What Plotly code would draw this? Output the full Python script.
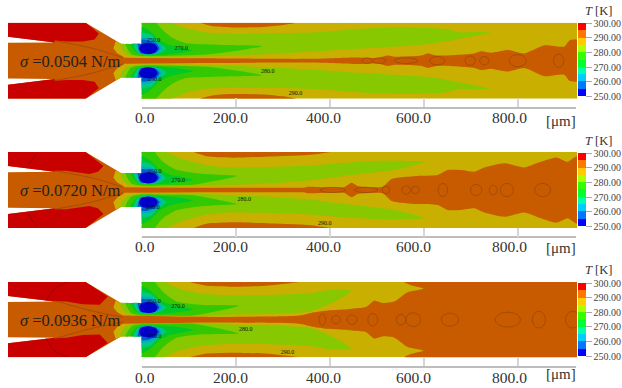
import plotly.graph_objects as go

# ---- shared text and scale data (x, y in micrometres, T in K) ----
TICKS = [0, 200, 400, 600, 800]
TICK_TEXT = ["0.0", "200.0", "400.0", "600.0", "800.0"]
TICK_TEXT_X = [6, 189, 387, 578, 782]
CBAR_TICKS = [250, 260, 270, 280, 290, 300]
SIGMA = ["0.0504", "0.0720", "0.0936"]
CONTOUR_LABEL_TEXT = ["250.0", "270.0", "280.0", "290.0", "250.0"]

BAR_COLORS = ["#0000ff", "#0077ff", "#00ccff", "#00ffaa", "#00ff33",
              "#33ff00", "#aaff00", "#ffcc00", "#ff7700", "#ff0000"]
C_RED = "#c80000"; C_ORANGE = "#c85a00"; C_OLIVE = "#c8af00"; C_LIME = "#87c800"
C_GREEN = "#33c800"; C_GREEN2 = "#00c828"; C_TEAL = "#00c885"; C_CYAN = "#00adc8"
C_BLUE = "#005dc8"; C_DBLUE = "#0000c8"

# ---- geometry shared by all panels ----
NOZZLE_X = [-284, -119, -43, 0, 0, -43, -119, -284, -284, -185, -284, -284, -185, -284]
NOZZLE_Y = [81, 81, 35.5, 35.5, -35.5, -35.5, -81, -81, -51, -39, -38, 38, 39, 51]
OLIVE_X = [925, 0, 0, -43, -55, -60, -52, -38, -38, -52, -60, -55, -43, 0, 0, 925]
OLIVE_Y = [81, 81, 35.5, 35.5, 42, 26, 16, 8, -8, -16, -26, -42, -35.5, -35.5, -81, -81]

# ---- vortex bands, shared ----
BG_X = [0, 17, 38, 60, 109, 67, 10, -11, -24, 0]
BG_Y = [73, 64, 44, 33, 22, 15, 12, 17, 35.5, 35.5]
TEAL_X = [0, 21, 37, 52, 42, 13, -8, -17, 0]
TEAL_Y = [60, 55, 37, 26, 18, 13, 17, 35.5, 35.5]
CYAN_X = [0, 21, 37, 43, 35, 13, -4, -11, 0]
CYAN_Y = [50, 47, 37, 26, 17, 13.5, 16, 35.5, 35.5]
BLUE_X = [0, 13, 31, 38, 31, 13, -3, -8, 0]
BLUE_Y = [45, 44, 37, 26, 18, 15, 17, 35.5, 35.5]
DBLUE_X = [-6, 0, 14, 28, 34, 28, 14, 0, -6]
DBLUE_Y = [26, 35, 38, 35, 26, 17, 14, 17, 26]

# ---- panel 1 ----
P1_RED_X = [-284, -119, -91, -100, -125, -158, -185, -185, -284]
P1_RED_Y = [81, 81, 58, 45, 41, 41, 43, 39, 51]
P1_LINE_X = [-185, -103, -40]
P1_LINE_Y = [42.5, 26, 6.4]
P1_WALL_X = [123, 150, 190, 260, 300, 329]
P1_WALL_Y = [81, 74, 71, 72, 76, 81]
P1_LIME_X = [63, 95, 138, 194, 265, 359, 430, 501, 572, 643, 679, 700, 742, 714, 664, 608,
             537, 430, 360, 265, 194, 123, 67, 17, -4, -29, -41, -45, 0, 0]
P1_LIME_Y = [81, 69, 60, 57, 58, 60, 65, 70, 71, 68, 60, 61, 60, 54, 44, 35,
             30, 24, 19, 14, 11, 9, 8.5, 8, 8.5, 12, 23, 35.5, 35.5, 81]
P1_GREEN_X = [31, 45, 67, 95, 159, 255, 194, 138, 67, 3, -22, -34, 0, 0]
P1_GREEN_Y = [81, 65, 48, 37, 34, 31, 20, 13, 10.5, 10, 14, 35.5, 35.5, 81]
P1_JET_X = [-40, 123, 265, 359, 452, 501, 523, 537, 594, 608, 629, 707, 721, 742, 778, 813, 856, 898, 909, 925]
P1_JET_Y = [6.4, 5, 4, 4, 7, 6, 11, 8.5, 11, 15.6, 11, 15.6, 20, 17, 23, 15.6, 33, 30, 43, 44]
P1_RING_X = [799, 886, 698, 728, 628, 562, 479, 505]
P1_RING_RX = [18, 11, 11, 10, 16, 25, 11, 14]
P1_RING_RY = [13, 14, 10, 9, 9, 6, 6, 6]
P1_LABEL_X = [25, 84, 268, 327, 28]
P1_LABEL_Y = [42, 25, -24, -71, -41]

# ---- panel 2 ----
P2_RED_X = [-284, -119, -81, -93, -111, -132, -160, -185, -185, -284]
P2_RED_Y = [81, 81, 51, 39, 34, 37, 41, 41, 39, 51]
P2_LINE_X = [-185, -103, -40]
P2_LINE_Y = [41, 25, 6]
P2_ARC_X = [-242, -224]
P2_ARC_Y = [50, 78]
P2_WALL_X = [111, 138, 194, 265, 359, 402]
P2_WALL_Y = [81, 72, 69, 71, 75, 81]
P2_LIME_X = [52, 84, 138, 194, 359, 430, 501, 601, 594, 537, 430, 360, 265, 194, 123, 17, -4, -29, -41, -45, 0, 0]
P2_LIME_Y = [81, 67, 53, 48, 52, 58, 62, 60, 57, 42.5, 30, 21, 14, 11, 8.5, 7, 8.5, 12, 23, 35.5, 35.5, 81]
P2_GREEN_X = [28, 45, 74, 123, 152, 203, 159, 109, 52, 3, -22, -34, 0, 0]
P2_GREEN_Y = [81, 60, 43, 35, 33, 30, 20, 11, 10, 9, 14, 35.5, 35.5, 81]
P2_JET_X = [-40, 123, 265, 345, 352, 360, 430, 446, 459, 512, 530, 551, 586, 629, 650, 679, 707, 728, 771, 813, 842, 881, 905, 925]
P2_JET_Y = [6, 5, 5, 5, 7, 7, 6, 15.6, 8.5, 7, 22.7, 27, 30, 32, 42.5, 42.5, 39, 48, 57, 48, 58, 69.5, 60, 71]
P2_RING_X = [562, 581.5, 640, 710.6, 747, 776, 852, 519, 477, 406]
P2_RING_RX = [9, 8.5, 10, 12, 8.5, 14, 17, 8, 25, 27]
P2_RING_RY = [9, 8, 14, 12, 10, 14, 14, 8, 5.5, 5.5]
P2_LABEL_X = [28, 78, 218, 389, 24]
P2_LABEL_Y = [40, 21, -21, -72, -38]

# ---- panel 3 ----
P3_RED_X = [-284, -119, -72, -89, -125, -160, -185, -185, -284]
P3_RED_Y = [81, 81, 50, 32, 33, 39, 40, 39, 51]
P3_LINE_X = [-185, -103, -40]
P3_LINE_Y = [41, 18, 5]
P3_ARC_X = [-157, -185, -203]
P3_ARC_Y = [80, 67, 40]
P3_WALL_X = [102, 138, 194, 265, 336]
P3_WALL_Y = [81, 73, 71, 73, 81]
P3_LIME_X = [49, 81, 123, 194, 359, 402, 445, 430, 395, 359, 265, 194, 123, 17, -4, -29, -41, -45, 0, 0]
P3_LIME_Y = [81, 66, 57, 52, 57, 64, 62, 50, 32, 18, 12, 11, 8, 7.5, 8.5, 12, 23, 35.5, 35.5, 81]
P3_GREEN_X = [28, 45, 74, 123, 207, 159, 109, 52, 3, -22, -34, 0, 0]
P3_GREEN_Y = [81, 60, 39, 32, 30, 18, 9, 9, 9.5, 14.5, 35.5, 35.5, 81]
P3_JET_X = [-40, 123, 265, 336, 360, 395, 430, 452, 477, 494, 512, 537, 565, 599, 572, 558, 925]
P3_JET_Y = [9, 6, 6.7, 9, 14.5, 19.5, 21.6, 24, 27, 40.5, 36, 39, 59, 67, 74, 81, 81]
P3_RING_X = [384, 413, 447, 491, 551, 577, 655, 778, 844, 916]
P3_RING_RX = [7, 9, 10.6, 10.6, 10, 15.6, 18.4, 27, 14, 15.6]
P3_RING_RY = [12, 9, 10, 13.5, 11.5, 15, 14, 16, 18, 18]
P3_LABEL_X = [26, 77, 221, 310, 28]
P3_LABEL_Y = [38, 29, -22, -71, -37]

# ---- pixel layout ----
W, H = 622, 388
PANEL_TOP = [22.7, 152, 282]
PANEL_BOT = [98.7, 228, 357.3]
BASELINE = [108, 237.3, 367]
BAR_TOP = [23.3, 153.3, 283]
SIGMA_Y = [62, 190, 320]
TITLE_Y = [11, 141, 270]
UNIT_Y = [120.7, 248, 374]
TICK_LABEL_Y = [117.3, 247, 377]
SERIF = "Liberation Serif"

fig = go.Figure()


def halves(x, y):
    return x + [None] + x, y + [None] + [-v for v in y]


def loop(x, y):
    return x + x[::-1], y + [-v for v in y[::-1]]


def fill(x, y, color, ya, smooth=True):
    fig.add_trace(go.Scatter(
        x=x, y=y, mode="lines", fill="toself", fillcolor=color,
        line=dict(width=0, shape="spline" if smooth else "linear", smoothing=0.6),
        xaxis="x", yaxis=ya, hoverinfo="skip", showlegend=False))


def stroke(x, y, color, ya):
    fig.add_trace(go.Scatter(
        x=x, y=y, mode="lines", line=dict(width=0.7, color=color, shape="spline"),
        xaxis="x", yaxis=ya, hoverinfo="skip", showlegend=False))


panels = [
    (P1_RED_X, P1_RED_Y, P1_LINE_X, P1_LINE_Y, None, None, P1_WALL_X, P1_WALL_Y, P1_LIME_X, P1_LIME_Y,
     P1_GREEN_X, P1_GREEN_Y, P1_JET_X, P1_JET_Y, P1_RING_X, P1_RING_RX, P1_RING_RY, P1_LABEL_X, P1_LABEL_Y),
    (P2_RED_X, P2_RED_Y, P2_LINE_X, P2_LINE_Y, P2_ARC_X, P2_ARC_Y, P2_WALL_X, P2_WALL_Y, P2_LIME_X, P2_LIME_Y,
     P2_GREEN_X, P2_GREEN_Y, P2_JET_X, P2_JET_Y, P2_RING_X, P2_RING_RX, P2_RING_RY, P2_LABEL_X, P2_LABEL_Y),
    (P3_RED_X, P3_RED_Y, P3_LINE_X, P3_LINE_Y, P3_ARC_X, P3_ARC_Y, P3_WALL_X, P3_WALL_Y, P3_LIME_X, P3_LIME_Y,
     P3_GREEN_X, P3_GREEN_Y, P3_JET_X, P3_JET_Y, P3_RING_X, P3_RING_RX, P3_RING_RY, P3_LABEL_X, P3_LABEL_Y),
]

stepped = []
for i, c in enumerate(BAR_COLORS):
    stepped += [[i / 10, c], [(i + 1) / 10, c]]

shapes, annotations = [], []
layout_axes = {}

for n, p in enumerate(panels):
    ya = "y" if n == 0 else f"y{n + 1}"
    red_x, red_y, line_x, line_y, arc_x, arc_y, wall_x, wall_y, lime_x, lime_y, \
        green_x, green_y, jet_x, jet_y, ring_x, ring_rx, ring_ry, lab_x, lab_y = p

    fill(NOZZLE_X, NOZZLE_Y, C_ORANGE, ya, smooth=False)
    fill(*halves(red_x, red_y), C_RED, ya, smooth=False)
    if arc_x:
        stroke(*halves(arc_x, arc_y), "#8c0000", ya)
    stroke(*halves(line_x, line_y), "#94480a", ya)
    fill(OLIVE_X, OLIVE_Y, C_OLIVE, ya, smooth=False)
    fill(*halves(wall_x, wall_y), C_ORANGE, ya)
    fill(*halves(lime_x, lime_y), C_LIME, ya)
    fill(*halves(green_x, green_y), C_GREEN, ya)
    fill(*halves(BG_X, BG_Y), C_GREEN2, ya)
    fill(*halves(TEAL_X, TEAL_Y), C_TEAL, ya)
    fill(*halves(CYAN_X, CYAN_Y), C_CYAN, ya)
    fill(*halves(BLUE_X, BLUE_Y), C_BLUE, ya)
    fill(*halves(DBLUE_X, DBLUE_Y), C_DBLUE, ya)
    fill(*loop(jet_x, jet_y), C_ORANGE, ya)

    fig.add_trace(go.Scatter(
        x=lab_x, y=lab_y, text=CONTOUR_LABEL_TEXT, mode="text",
        textfont=dict(family=SERIF, size=6, color="#111"),
        xaxis="x", yaxis=ya, hoverinfo="skip", showlegend=False))

    for cx, rx, ry in zip(ring_x, ring_rx, ring_ry):
        shapes.append(dict(type="circle", xref="x", yref=ya, x0=cx - rx, x1=cx + rx, y0=-ry, y1=ry,
                           line=dict(color="#94480a", width=0.7), layer="above"))

    layout_axes["yaxis" if n == 0 else f"yaxis{n + 1}"] = dict(
        domain=[1 - PANEL_BOT[n] / H, 1 - PANEL_TOP[n] / H], range=[-81, 81],
        visible=False, anchor="x")

    # tick axis for this row
    ax = n + 2
    layout_axes[f"xaxis{ax}"] = dict(
        domain=[141.7 / W, 576 / W], range=[0, 924], anchor="free", position=1 - BASELINE[n] / H,
        showline=True, linecolor="#bdbdbd", linewidth=1.5, ticks="inside", ticklen=9, tickwidth=1.5,
        tickcolor="#d6d6d6", tickvals=TICKS, showticklabels=False, showgrid=False, zeroline=False)
    fig.add_trace(go.Scatter(x=TICKS, y=[None] * len(TICKS), mode="lines", xaxis=f"x{ax}", yaxis=ya,
                             hoverinfo="skip", showlegend=False))

    # colour scale for this row
    fig.add_trace(go.Scatter(
        x=[-9000, -9000], y=[0, 0], mode="markers", xaxis="x", yaxis=ya, hoverinfo="skip", showlegend=False,
        marker=dict(size=1, color=[250, 300], cmin=250, cmax=300, colorscale=stepped, showscale=True,
                    colorbar=dict(x=578 / W, xanchor="left", y=1 - BAR_TOP[n] / H, yanchor="top",
                                  lenmode="pixels", len=73, thickness=7.5, thicknessmode="pixels",
                                  xpad=0, ypad=0, outlinewidth=0, borderwidth=0,
                                  tickvals=CBAR_TICKS, tickformat=".2f", ticks="outside", ticklen=6,
                                  tickwidth=1, tickcolor="#aaaaaa",
                                  tickfont=dict(family=SERIF, size=10, color="#444")))))

    for lx, txt in zip(TICK_TEXT_X, TICK_TEXT):
        annotations.append(dict(xref=f"x{ax}", yref="paper", x=lx, y=1 - TICK_LABEL_Y[n] / H, text=txt,
                                showarrow=False, xanchor="center", yanchor="middle",
                                font=dict(family=SERIF, size=15.5, color="#333")))
    annotations.append(dict(xref="paper", yref="paper", x=578 / W, y=1 - UNIT_Y[n] / H, text="[μm]",
                            showarrow=False, xanchor="right", yanchor="middle",
                            font=dict(family=SERIF, size=15, color="#333")))
    annotations.append(dict(xref="paper", yref="paper", x=598 / W, y=1 - TITLE_Y[n] / H, text="<i>T</i> [K]",
                            showarrow=False, xanchor="center", yanchor="middle",
                            font=dict(family=SERIF, size=12.5, color="#333")))
    annotations.append(dict(xref="paper", yref="paper", x=18 / W, y=1 - SIGMA_Y[n] / H,
                            text=f"<i>σ</i> ={SIGMA[n]} N/m",
                            showarrow=False, xanchor="left", yanchor="middle",
                            font=dict(family=SERIF, size=16.5, color="#222")))

fig.update_layout(
    width=W, height=H, margin=dict(l=0, r=0, t=0, b=0), paper_bgcolor="white", plot_bgcolor="rgba(0,0,0,0)",
    showlegend=False, shapes=shapes, annotations=annotations,
    xaxis=dict(domain=[8 / W, 577 / W], range=[-284, 925], visible=False, anchor="y"),
    **layout_axes)

fig.write_html("out.html", config={"displayModeBar": False}, post_script="document.body.style.margin='0';")
